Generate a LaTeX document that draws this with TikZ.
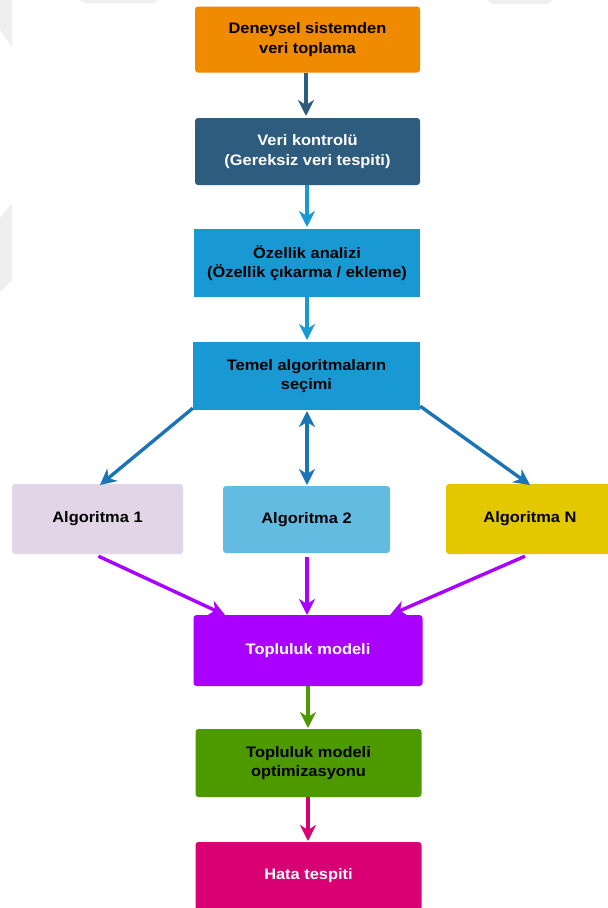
\documentclass[tikz,border=0pt]{standalone}
\usepackage{fontspec}
\setmainfont[FakeStretch=1.08]{Liberation Sans}
\usetikzlibrary{arrows.meta}
\definecolor{cOrange}{HTML}{F08A00}
\definecolor{cNavy}{HTML}{2E5C7E}
\definecolor{cSky}{HTML}{1899D4}
\definecolor{cLink}{HTML}{1A74B6}
\definecolor{cLilac}{HTML}{E1D5E7}
\definecolor{cLight}{HTML}{64BBE2}
\definecolor{cGold}{HTML}{E3C800}
\definecolor{cViolet}{HTML}{AA00FF}
\definecolor{cGreen}{HTML}{4D9900}
\definecolor{cPink}{HTML}{D80073}
\definecolor{cMark}{HTML}{EFEFEF}
\tikzset{
  head/.tip={Stealth[length=16pt,width=16pt,inset=5pt]},
  box/.style={draw=none, rounded corners=3pt, align=center,
    font=\fontsize{15.2}{19.5}\selectfont\bfseries, inner sep=0pt},
  flow/.style={line width=3.4pt, -{head}},
  both/.style={line width=3.4pt, {head}-{head}},
}
\begin{document}
\begin{tikzpicture}[x=1pt,y=-1pt]
\useasboundingbox (0,0) rectangle (608,908);
\fill[white] (0,0) rectangle (608,908);

% faint background marks
\fill[cMark] (0,0) -- (12,0) -- (12,47) -- (0,30) -- cycle;
\fill[cMark] (80,0) -- (158,0) -- (154,3) -- (86,3) -- cycle;
\fill[cMark] (487,0) -- (553,0) -- (548,4) -- (492,4) -- cycle;
\fill[cMark] (12,203) -- (12,280) -- (0,292) -- (0,218) -- cycle;

% processing chain
\node[box, fill=cOrange, minimum width=225pt, minimum height=66pt] (collect) at (307.5,39.5) {Deneysel sistemden\\veri toplama};
\node[box, fill=cNavy, text=white, minimum width=225pt, minimum height=67pt] (check) at (307.5,151.5) {Veri kontrolü\\(Gereksiz veri tespiti)};
\node[box, fill=cSky, rounded corners=0pt, minimum width=226pt, minimum height=68pt] (feat) at (307,263) {Özellik analizi\\(Özellik çıkarma / ekleme)};
\node[box, fill=cSky, rounded corners=0pt, minimum width=227pt, minimum height=68pt] (select) at (306.5,376) {Temel algoritmaların\\seçimi};

% candidate algorithms
\node[box, fill=cLilac, minimum width=171pt, minimum height=70pt] (algA) at (97.5,519) {Algoritma 1};
\node[box, fill=cLight, minimum width=167pt, minimum height=67pt] (algB) at (306.5,519.5) {Algoritma 2};
\node[box, fill=cGold, minimum width=168pt, minimum height=70pt] (algN) at (530,519) {Algoritma N};

% ensemble stage
\node[box, fill=cViolet, text=white, minimum width=229pt, minimum height=71pt] (ens) at (308,650.5) {Topluluk modeli};
\node[box, fill=cGreen, minimum width=226pt, minimum height=68pt] (opt) at (308.5,763) {Topluluk modeli\\optimizasyonu};
\node[box, fill=cPink, text=white, minimum width=226pt, minimum height=68pt] (err) at (308.5,876) {Hata tespiti};

% connectors
\draw[flow, cNavy] (collect.south -| 306,0) -- (306,116);
\draw[flow, cSky] (check.south -| 307,0) -- (307,227);
\draw[flow, cSky] (feat.south -| 307,0) -- (307,340);

\draw[flow, cLink] (select.south west) ++(0,-2) -- (100,485);
\draw[both, cLink] (307,411) -- (307,485);
\draw[flow, cLink] (select.south east) ++(0,-4) -- (530,485);

\draw[flow, cViolet] (algA.south) ++(1,2) -- (225,615);
\draw[flow, cViolet] (algB.south) ++(0.5,4) -- (307,615);
\draw[flow, cViolet] (algN.south) ++(-5,2) -- (390,615);

\draw[flow, cGreen] (ens.south -| 308,0) -- (308,728);
\draw[flow, cPink] (opt.south -| 308,0) -- (308,841);
\end{tikzpicture}
\end{document}
